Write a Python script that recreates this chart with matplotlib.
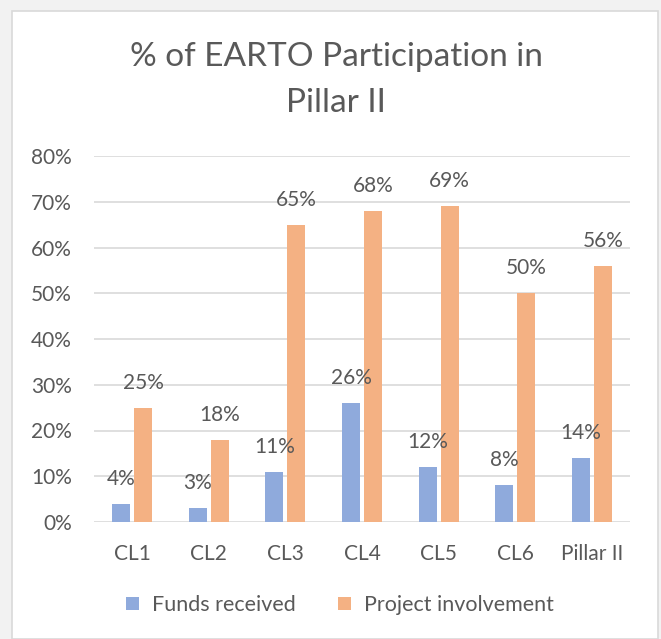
import matplotlib
matplotlib.use('Agg')
import matplotlib.pyplot as plt
from matplotlib.patches import Rectangle
import numpy as np

categories = ['CL1', 'CL2', 'CL3', 'CL4', 'CL5', 'CL6', 'Pillar II']
funds_received = [4, 3, 11, 26, 12, 8, 14]
project_involvement = [25, 18, 65, 68, 69, 50, 56]
yticks = [0, 10, 20, 30, 40, 50, 60, 70, 80]

BLUE = '#8faadc'
ORANGE = '#f4b183'
TEXT = '#595959'
GRID = '#d9d9d9'

W, H = 661, 639
plt.rcParams['font.family'] = ['Lato', 'DejaVu Sans']

fig = plt.figure(figsize=(W / 100, H / 100), dpi=100, facecolor='#f2f2f2')
frame = Rectangle((12 / W, 0), 646 / W, 1 - 11 / H, transform=fig.transFigure,
                  facecolor='white', edgecolor=GRID, linewidth=1.2, zorder=-10)
fig.add_artist(frame)

ax = fig.add_axes([94 / W, (H - 522) / H, (630 - 94) / W, (522 - 156) / H])
ax.set_facecolor('white')

x = np.arange(len(categories))
bw = 0.235
off = 0.144
b1 = ax.bar(x - off, funds_received, bw, color=BLUE, label='Funds received', zorder=3)
b2 = ax.bar(x + off, project_involvement, bw, color=ORANGE, label='Project involvement', zorder=3)

for bars, vals in ((b1, funds_received), (b2, project_involvement)):
    for rect, v in zip(bars, vals):
        ax.annotate('{}%'.format(v), (rect.get_x() + rect.get_width() / 2, v),
                    xytext=(0, 18), textcoords='offset points', ha='center', va='center',
                    fontsize=15, color=TEXT)

ax.set_xlim(-0.5, len(categories) - 0.5)
ax.set_ylim(0, 80)
ax.set_yticks(yticks)
ax.set_yticklabels(['{}%'.format(t) for t in yticks])
ax.set_xticks(x)
ax.set_xticklabels(categories)
ax.tick_params(axis='both', length=0, labelsize=15, labelcolor=TEXT)
ax.tick_params(axis='y', pad=16)
ax.tick_params(axis='x', pad=16)
ax.grid(axis='y', color=GRID, linewidth=1.2, zorder=0)
for s in ax.spines.values():
    s.set_visible(False)

fig.text(336 / W, 1 - 57 / H, '% of EARTO Participation in', ha='center', va='center',
         fontsize=24, color=TEXT)
fig.text(336 / W, 1 - 103 / H, 'Pillar II', ha='center', va='center',
         fontsize=24, color=TEXT)

fig.legend(handles=[b1, b2], loc='center', bbox_to_anchor=(340 / W, 1 - 605 / H), ncol=2,
           frameon=False, fontsize=15.5, labelcolor=TEXT, handlelength=0.6, handleheight=0.6,
           columnspacing=2.0, handletextpad=0.6)

fig.savefig('out.png', dpi=100, facecolor=fig.get_facecolor())
